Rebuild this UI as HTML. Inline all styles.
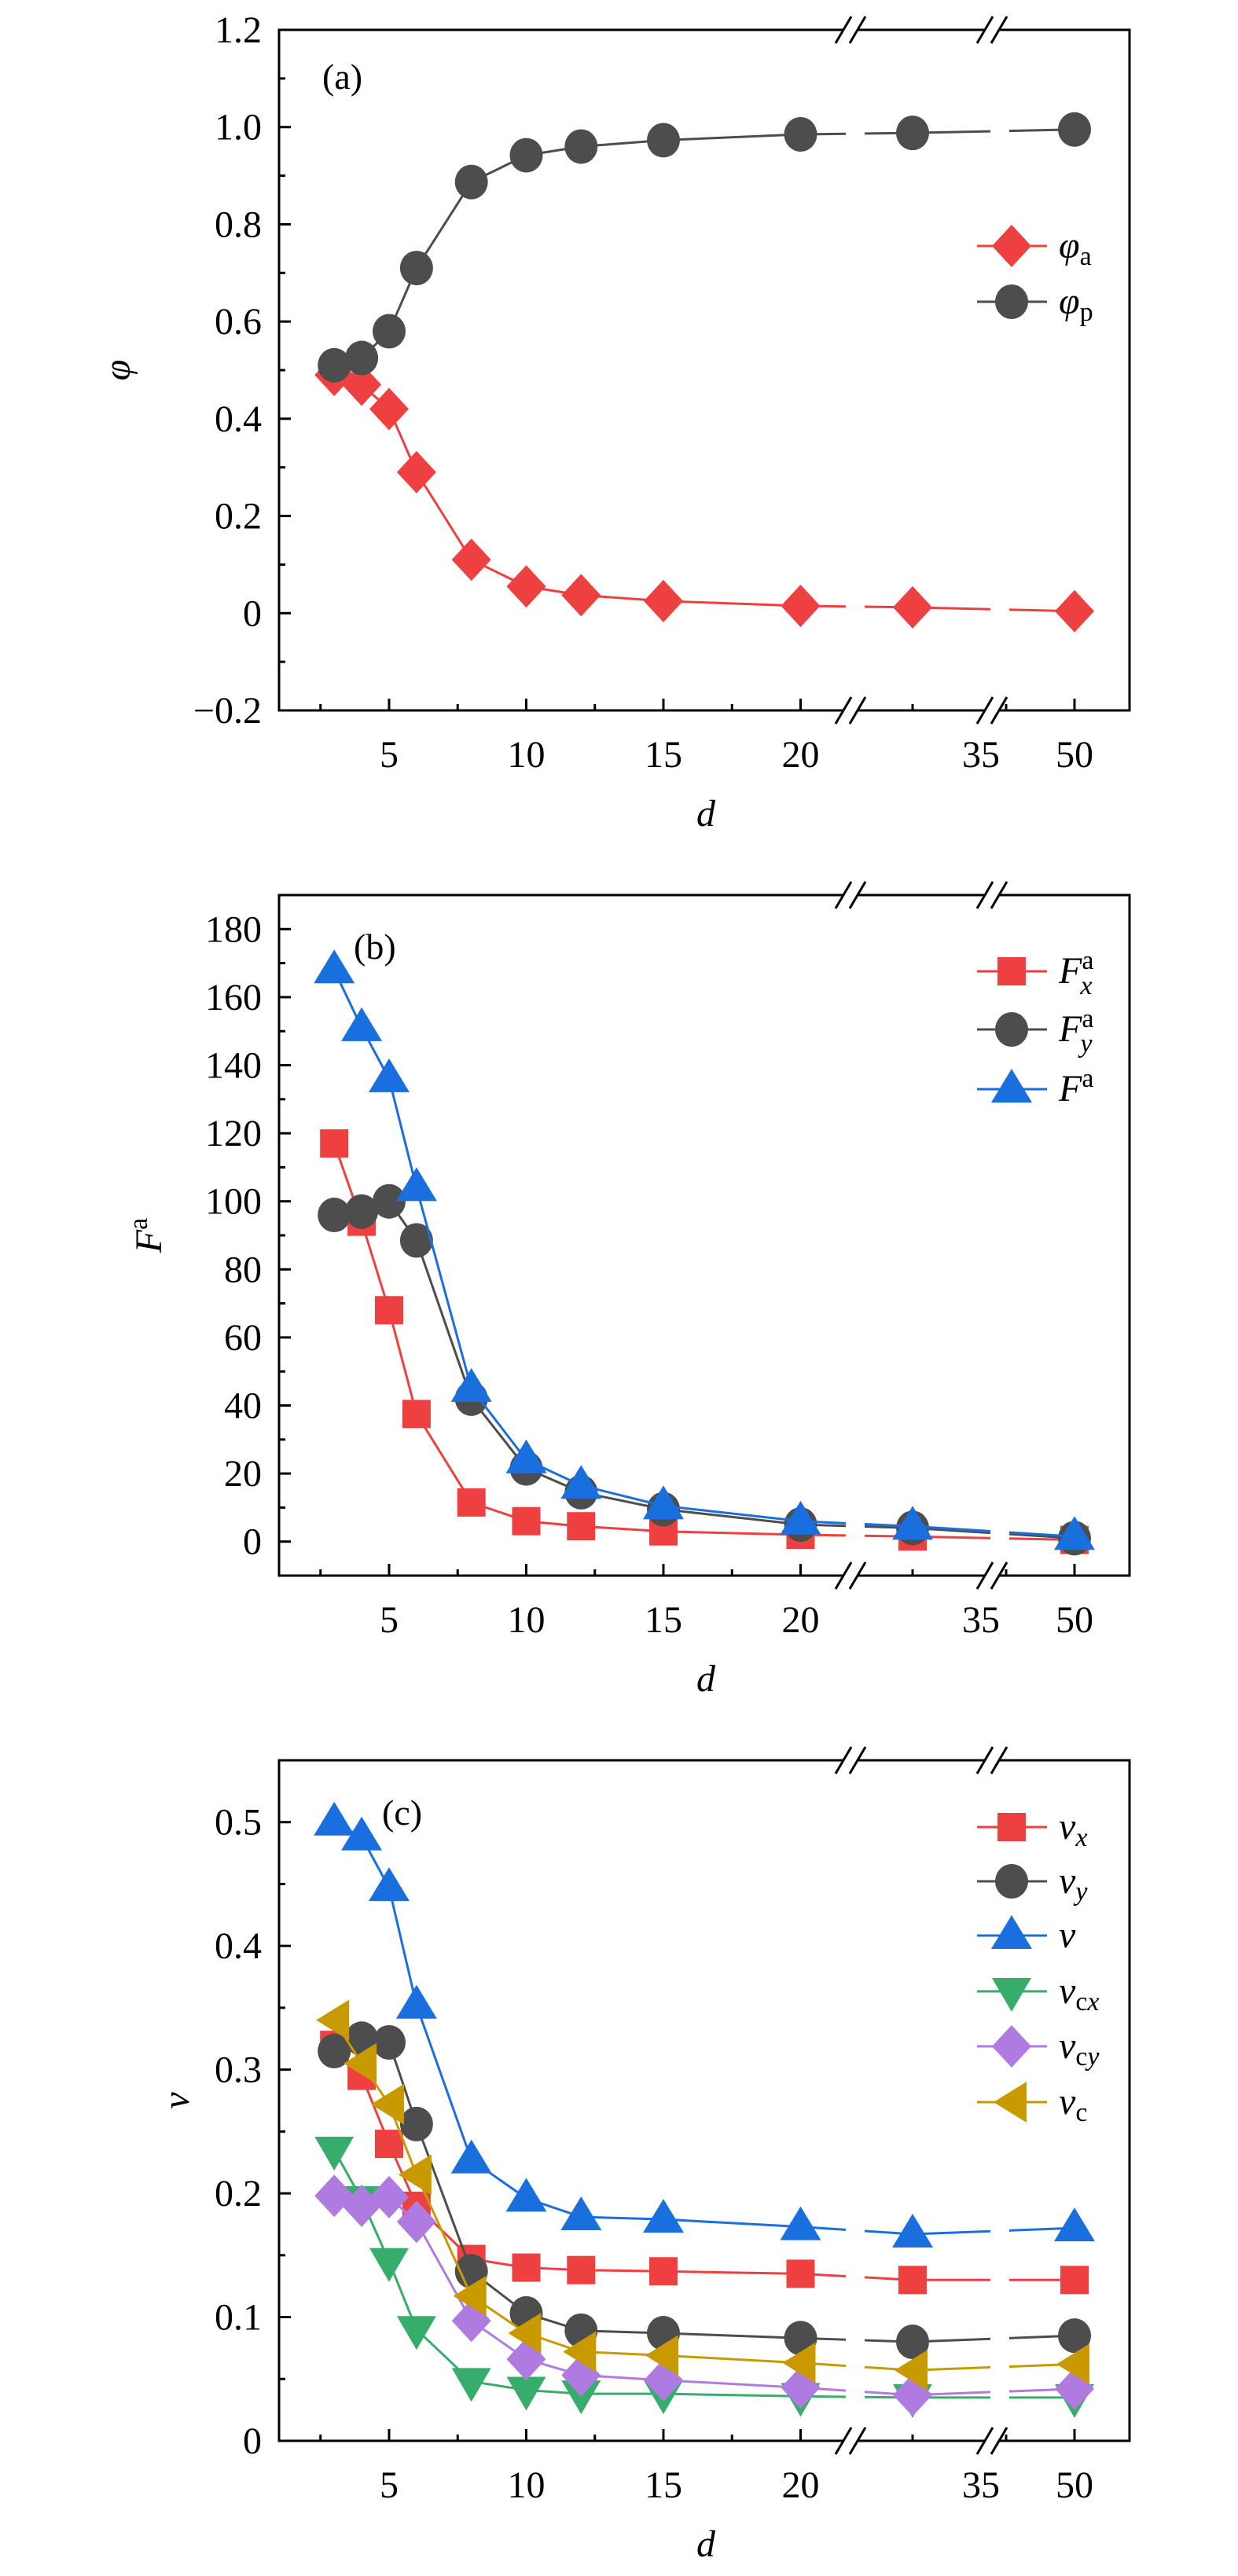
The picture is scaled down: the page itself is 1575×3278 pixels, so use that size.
<!DOCTYPE html>
<html><head><meta charset="utf-8"><title>d-dependence charts</title>
<style>html,body{margin:0;padding:0;background:#fff}svg{display:block}text{font-family:"Liberation Serif",serif;fill:#000}</style>
</head><body>
<svg id="fig" xmlns="http://www.w3.org/2000/svg" width="1575" height="3278" viewBox="0 0 1575 3278"></svg>
<script>
// ---- data ----
const dValues = [3, 4, 5, 6, 8, 10, 12, 15, 20, 30, 50];
const phiA = [0.49, 0.47, 0.42, 0.29, 0.11, 0.055, 0.037, 0.025, 0.015, 0.012, 0.004];
const phiP = [0.51, 0.525, 0.58, 0.71, 0.887, 0.942, 0.96, 0.973, 0.985, 0.988, 0.995];
const fX = [117, 94, 68, 37.5, 11.5, 6, 4.5, 3, 2, 1.5, 0.5];
const fY = [96, 97, 100, 88.5, 42, 21.5, 14.5, 9.5, 5, 4, 1];
const fTot = [168, 151, 136, 104, 45, 24, 16.5, 10.5, 6, 4.5, 1.5];
const vX = [0.32, 0.295, 0.24, 0.19, 0.147, 0.14, 0.138, 0.137, 0.135, 0.13, 0.13];
const vY = [0.315, 0.325, 0.322, 0.256, 0.137, 0.103, 0.089, 0.087, 0.083, 0.08, 0.085];
const vTot = [0.5, 0.488, 0.447, 0.352, 0.227, 0.196, 0.181, 0.179, 0.173, 0.167, 0.172];
const vCx = [0.235, 0.195, 0.145, 0.09, 0.048, 0.041, 0.038, 0.038, 0.036, 0.035, 0.035];
const vCy = [0.198, 0.19, 0.197, 0.177, 0.097, 0.066, 0.053, 0.049, 0.043, 0.037, 0.042];
const vC = [0.34, 0.305, 0.272, 0.215, 0.117, 0.087, 0.072, 0.069, 0.063, 0.057, 0.062];
const xTickValues = [5, 10, 15, 20, 35, 50];
const xTickLabels = ["5", "10", "15", "20", "35", "50"];
const xMajorTickValues = [5, 10, 15, 20, 50];
const xMinorTickValues = [2.5, 7.5, 12.5, 17.5, 30, 36];
const yTicksA = [-0.2, 0, 0.2, 0.4, 0.6, 0.8, 1.0, 1.2];
const yLabelsA = ["\u22120.2", "0", "0.2", "0.4", "0.6", "0.8", "1.0", "1.2"];
const yMinorA = [-0.1, 0.1, 0.3, 0.5, 0.7, 0.9, 1.1];
const yTicksB = [0, 20, 40, 60, 80, 100, 120, 140, 160, 180];
const yLabelsB = ["0", "20", "40", "60", "80", "100", "120", "140", "160", "180"];
const yMinorB = [10, 30, 50, 70, 90, 110, 130, 150, 170];
const yTicksC = [0, 0.1, 0.2, 0.3, 0.4, 0.5];
const yLabelsC = ["0", "0.1", "0.2", "0.3", "0.4", "0.5"];
const yMinorC = [0.05, 0.15, 0.25, 0.35, 0.45];

const NS = "http://www.w3.org/2000/svg";
const svg = document.getElementById("fig");
const L = 355, R = 1437, H = 866;
const knots = [[0, 320.5], [22, 1088.3], [30, 1161], [35, 1248], [36, 1280], [50, 1367], [60, 1430]];
function xScale(d) {
  for (let i = 0; i < knots.length - 1; i++) {
    const a = knots[i], b = knots[i + 1];
    if (d <= b[0]) return a[1] + (d - a[0]) * (b[1] - a[1]) / (b[0] - a[0]);
  }
  return knots[knots.length - 1][1];
}
function mk(tag, attrs, parent) {
  const e = document.createElementNS(NS, tag);
  for (const k in attrs) e.setAttribute(k, attrs[k]);
  (parent || svg).appendChild(e);
  return e;
}
function markerShape(shape, x, y, color, g) {
  let e;
  if (shape === "circle") e = mk("ellipse", {cx: x, cy: y, rx: 21, ry: 22, fill: color}, g);
  else if (shape === "diamond") e = mk("polygon", {points: `${x},${y-27} ${x+25},${y} ${x},${y+27} ${x-25},${y}`, fill: color}, g);
  else if (shape === "square") e = mk("rect", {x: x-18, y: y-18, width: 36, height: 36, fill: color}, g);
  else if (shape === "up") e = mk("polygon", {points: `${x},${y-26} ${x+26},${y+17} ${x-26},${y+17}`, fill: color}, g);
  else if (shape === "down") e = mk("polygon", {points: `${x},${y+26} ${x+25},${y-17} ${x-25},${y-17}`, fill: color}, g);
  else e = mk("polygon", {points: `${x-23},${y} ${x+19},${y-26} ${x+19},${y+26}`, fill: color}, g);
  return e;
}

const panels = [
  {id: "a", top: 38, ymin: -0.2, ymax: 1.2, ticks: yTicksA, labels: yLabelsA, minor: yMinorA,
   series: [{name: "phi-a", vals: phiA, color: "#ee4040", shape: "diamond", lab: ["\u03c6", "a"], sub: true},
            {name: "phi-p", vals: phiP, color: "#4d4d4d", shape: "circle", lab: ["\u03c6", "p"], sub: true}],
   legY: [313, 384], title: "\u03c6", titleX: 165, tag: "(a)", tagX: 410, tagY: 113},
  {id: "b", top: 1139, ymin: -10, ymax: 190, ticks: yTicksB, labels: yLabelsB, minor: yMinorB,
   series: [{name: "fx", vals: fX, color: "#ee4040", shape: "square", lab: ["F", "a", "x"]},
            {name: "fy", vals: fY, color: "#4d4d4d", shape: "circle", lab: ["F", "a", "y"]},
            {name: "f-total", vals: fTot, color: "#1a6fdf", shape: "up", lab: ["F", "a"]}],
   legY: [1236, 1310, 1386], title: "F", titleX: 205, tag: "(b)", tagX: 450, tagY: 1220},
  {id: "c", top: 2240, ymin: 0, ymax: 0.55, ticks: yTicksC, labels: yLabelsC, minor: yMinorC,
   series: [{name: "vx", vals: vX, color: "#ee4040", shape: "square", lab: ["v", "x"], sub: true},
            {name: "vy", vals: vY, color: "#4d4d4d", shape: "circle", lab: ["v", "y"], sub: true},
            {name: "v-total", vals: vTot, color: "#1a6fdf", shape: "up", lab: ["v"]},
            {name: "vcx", vals: vCx, color: "#37ad6b", shape: "down", lab: ["v", "cx"], sub: true},
            {name: "vcy", vals: vCy, color: "#b07be0", shape: "diamond", lab: ["v", "cy"], sub: true},
            {name: "vc", vals: vC, color: "#c89a00", shape: "left", lab: ["v", "c"], sub: true}],
   legY: [2325, 2394, 2463, 2534, 2604, 2675], title: "v", titleX: 240, tag: "(c)", tagX: 486, tagY: 2322}
];

panels.forEach(p => {
  const T = p.top, B = p.top + H;
  const yScale = v => B - (v - p.ymin) / (p.ymax - p.ymin) * H;
  const g = mk("g", {});
  
  

  p.series.forEach(s => {
    const sg = mk("g", {}, g);
    
    
    const pts = dValues.map((d, i) => xScale(d) + "," + yScale(s.vals[i])).join(" ");
    const line = mk("polyline", {points: pts, fill: "none", stroke: s.color, "stroke-width": 3}, sg);
    
    
    dValues.forEach((d, i) => {
      const m = markerShape(s.shape, xScale(d), yScale(s.vals[i]), s.color, sg);
      
      
    });
  });

  [1088, 1272].forEach(xb => {
    const gap = mk("rect", {x: xb - 12, y: T + 3, width: 24, height: H - 6, fill: "#fff"}, g);
    
    
  });

  const fr = mk("rect", {x: L, y: T, width: R - L, height: H, fill: "none", stroke: "#000", "stroke-width": 3}, g);
  
  

  [1082, 1262].forEach(xb => {
    [T, B].forEach(yy => {
      const wb = mk("polygon", {points: `${xb-9},${yy-3} ${xb+9},${yy-3} ${xb+9},${yy+3} ${xb-9},${yy+3}`, fill: "#fff"}, g);
      
      
      [-9, 9].forEach(o => {
        const sl = mk("line", {x1: xb + o - 10, y1: yy + 17, x2: xb + o + 10, y2: yy - 17, stroke: "#000", "stroke-width": 3}, g);
        
        
      });
    });
  });

  p.ticks.forEach((v, i) => {
    const y = yScale(v);
    const tk = mk("line", {x1: L, y1: y, x2: L + 15, y2: y, stroke: "#000", "stroke-width": 3}, g);
    
    
    const tl = mk("text", {x: 333, y: y + 16, "text-anchor": "end", "font-size": 48}, g);
    tl.textContent = p.labels[i];
    
    
  });
  p.minor.forEach(v => {
    const y = yScale(v);
    const tk = mk("line", {x1: L, y1: y, x2: L + 8, y2: y, stroke: "#000", "stroke-width": 3}, g);
    
    
  });

  xMajorTickValues.forEach(d => {
    const x = xScale(d);
    const tk = mk("line", {x1: x, y1: B, x2: x, y2: B - 15, stroke: "#000", "stroke-width": 3}, g);
    
    
  });
  xMinorTickValues.forEach(d => {
    const x = xScale(d);
    const tk = mk("line", {x1: x, y1: B, x2: x, y2: B - 8, stroke: "#000", "stroke-width": 3}, g);
    
    
  });
  xTickValues.forEach((d, i) => {
    const tl = mk("text", {x: xScale(d), y: B + 72, "text-anchor": "middle", "font-size": 48}, g);
    tl.textContent = xTickLabels[i];
    
    
  });

  const xt = mk("text", {x: 898, y: B + 147, "text-anchor": "middle", "font-size": 48, "font-style": "italic"}, g);
  xt.textContent = "d";
  
  
  const ty = T + H / 2;
  const yt = mk("text", {x: p.titleX, y: ty, "text-anchor": "middle", "font-size": 48, "font-style": "italic", transform: `rotate(-90 ${p.titleX} ${ty})`}, g);
  yt.textContent = p.title;
  if (p.id === "b") {
    const sup = mk("tspan", {"font-style": "normal", "font-size": 34, dy: -18}, yt);
    sup.textContent = "a";
  }
  
  

  const tg = mk("text", {x: p.tagX, y: p.tagY, "font-size": 46}, g);
  tg.textContent = p.tag;
  
  

  const lg = mk("g", {}, g);
  
  
  p.series.forEach((s, i) => {
    const y = p.legY[i];
    const eg = mk("g", {}, lg);
    
    
    const ln = mk("line", {x1: 1243, y1: y, x2: 1332, y2: y, stroke: s.color, "stroke-width": 3}, eg);
    
    
    const mm = markerShape(s.shape, 1287, y, s.color, eg);
    
    
    const t = mk("text", {x: 1347, y: y + 15, "font-size": 48, "font-style": "italic"}, eg);
    t.textContent = s.lab[0];
    if (s.lab.length > 1) {
      if (s.sub) {
        const sb = mk("tspan", {"font-style": s.lab[1] === "x" || s.lab[1] === "y" ? "italic" : "normal", "font-size": 34, dy: 9}, t);
        if (s.lab[1] === "cx" || s.lab[1] === "cy") {
          sb.textContent = "c";
          sb.setAttribute("font-style", "normal");
          const s2 = mk("tspan", {"font-style": "italic"}, sb);
          s2.textContent = s.lab[1][1];
        } else {
          sb.textContent = s.lab[1];
        }
      } else {
        const sp = mk("tspan", {"font-style": "normal", "font-size": 34, dy: -18}, t);
        sp.textContent = s.lab[1];
        if (s.lab[2]) {
          const sb = mk("tspan", {"font-style": "italic", "font-size": 34, dx: -17, dy: 32}, t);
          sb.textContent = s.lab[2];
        }
      }
    }
    
    
  });
});
</script>
</body></html>
